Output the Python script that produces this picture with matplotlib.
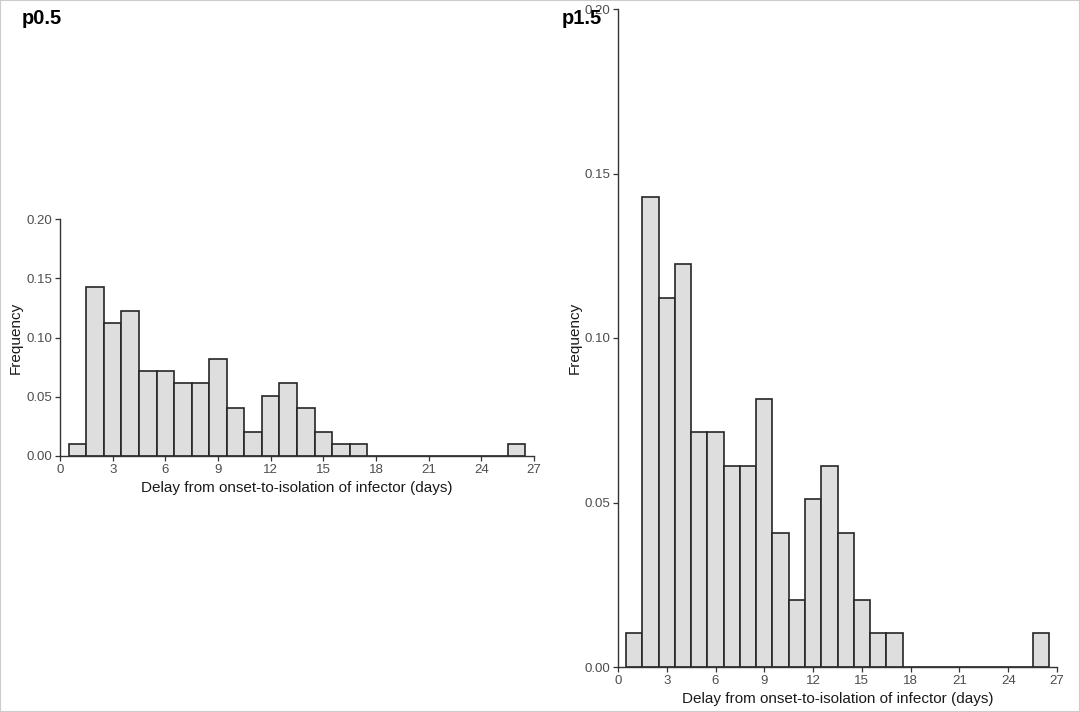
import numpy as np
import matplotlib.pyplot as plt
from matplotlib.patches import Rectangle

plt.rcParams['font.family'] = ['Liberation Sans', 'DejaVu Sans']

# Histogram data: bins of width 1 centred on whole days
days = list(range(1, 27))
freq = [0.0102, 0.1429, 0.1122, 0.1224, 0.0714, 0.0714, 0.0612, 0.0612,
        0.0816, 0.0408, 0.0204, 0.0510, 0.0612, 0.0408, 0.0204, 0.0102,
        0.0102, 0.0, 0.0, 0.0, 0.0, 0.0, 0.0, 0.0, 0.0, 0.0102]
x_ticks = [0, 3, 6, 9, 12, 15, 18, 21, 24, 27]
y_ticks = [0.00, 0.05, 0.10, 0.15, 0.20]
panel_titles = ["p0.5", "p1.5"]

W, H = 1080, 712
fig = plt.figure(figsize=(W / 100, H / 100), dpi=100)

# axes boxes in pixels: left, top, right, bottom
boxes = [(60, 219, 534, 456), (618, 9, 1057, 667)]
title_pos = [(22, 18), (562, 18)]
ylab_x = [23, 582]

TICK_COL = "#4d4d4d"
for (l, t, r, b), title, (tx, ty), yx in zip(boxes, panel_titles, title_pos, ylab_x):
    ax = fig.add_axes([l / W, 1 - b / H, (r - l) / W, (b - t) / H])
    ax.bar(days, freq, width=1.0, color="#dedede", edgecolor="#262626",
           linewidth=1.2, zorder=2)
    ax.set_xlim(0, 27)
    ax.set_ylim(0, 0.2)
    ax.set_xticks(x_ticks)
    ax.set_yticks(y_ticks)
    ax.set_yticklabels([f"{v:.2f}" for v in y_ticks])
    for s in ["top", "right"]:
        ax.spines[s].set_visible(False)
    for s in ["left", "bottom"]:
        ax.spines[s].set_color("#333333")
        ax.spines[s].set_linewidth(1.0)
    ax.tick_params(axis="both", direction="out", length=3.5, width=0.9,
                   color="#333333", labelcolor=TICK_COL, labelsize=9.5, pad=2)
    ax.set_xlabel("Delay from onset-to-isolation of infector (days)",
                  fontsize=11, color="#1a1a1a", labelpad=4)
    ax.set_ylabel("Frequency", fontsize=11, color="#1a1a1a")
    ax.yaxis.set_label_coords((yx - l) / (r - l), 0.5, transform=ax.transAxes)
    fig.text(tx / W, 1 - ty / H, title, fontsize=14.5, fontweight="bold",
             ha="left", va="center", color="black")

# thin light border around the figure
fig.patches.append(Rectangle((0, 0), 1, 1, transform=fig.transFigure,
                             fill=False, edgecolor="#cccccc", linewidth=1.5))

fig.savefig("out.png", dpi=100)
